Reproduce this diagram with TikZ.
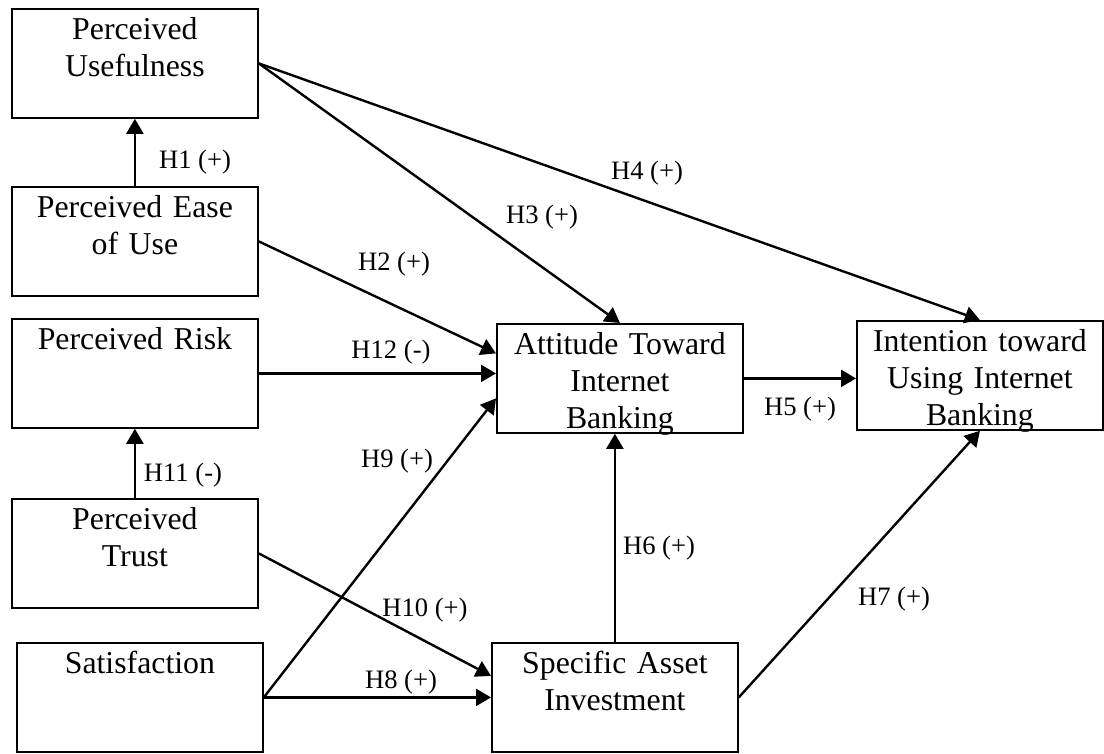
\documentclass[tikz,border=0pt]{standalone}
\usepackage{fontspec}
\setmainfont{Liberation Serif}
\usetikzlibrary{arrows.meta}

\begin{document}
\begin{tikzpicture}[x=0.5pt,y=-0.5pt,box/.style={rectangle,draw,line width=0.9pt,anchor=north west,inner sep=0pt,minimum width=123pt,text width=123pt,align=center,text height=15.5pt,text depth=39pt,font=\fontsize{15.9}{18.5}\selectfont},hyp/.style={inner sep=0pt,font=\fontsize{13.3}{15}\selectfont},arrow/.style={-{Triangle[length=7.5pt,width=8.5pt]},line width=1.2pt}]
\useasboundingbox (0,0) rectangle (1104,754);
\node[box](pu) at (11,8){Perceived\\Usefulness};
\node[box](pe) at (11,186){Perceived Ease\\of Use};
\node[box](pr) at (11,318){Perceived Risk};
\node[box](pt) at (11,498){Perceived\\Trust};
\node[box](sat) at (16,642){Satisfaction};
\node[box](at) at (496,323){Attitude Toward\\Internet\\Banking};
\node[box](in) at (856,320){Intention toward\\Using Internet\\Banking};
\node[box](sai) at (491,642){Specific Asset\\Investment};
% hypotheses
\node[hyp](h1) at (195,162){H1 (+)};
\node[hyp](h2) at (394,264){H2 (+)};
\node[hyp](h3) at (542,217){H3 (+)};
\node[hyp](h4) at (647,173){H4 (+)};
\node[hyp](h5) at (800,409){H5 (+)};
\node[hyp](h6) at (659,548){H6 (+)};
\node[hyp](h7) at (894,599){H7 (+)};
\node[hyp](h8) at (401,682){H8 (+)};
\node[hyp](h9) at (397,461){H9 (+)};
\node[hyp](h10) at (425,610){H10 (+)};
\node[hyp](h11) at (183,475){H11 (-)};
\node[hyp](h12) at (391,352){H12 (-)};
\foreach \x/\y in {pe.north/pu.south,pt.north/pr.south,pu.east/at.north,pu.east/in.north,sai.east/in.south}{\draw[arrow](\x)--(\y);}
\draw[arrow](pe.east)--([yshift=12.5pt]at.west);
\draw[arrow](pr.east)--(pr.east -| at.west);
\draw[arrow](sat.east)--([yshift=-10pt]at.west);
\draw[arrow](pt.east)--([yshift=10.75pt]sai.west);
\draw[arrow](sat.east)--(sat.east -| sai.west);
\draw[arrow](at.east)--(at.east -| in.west);
\draw[arrow](sai.north)--(sai.north |- at.south);
\end{tikzpicture}
\end{document}
